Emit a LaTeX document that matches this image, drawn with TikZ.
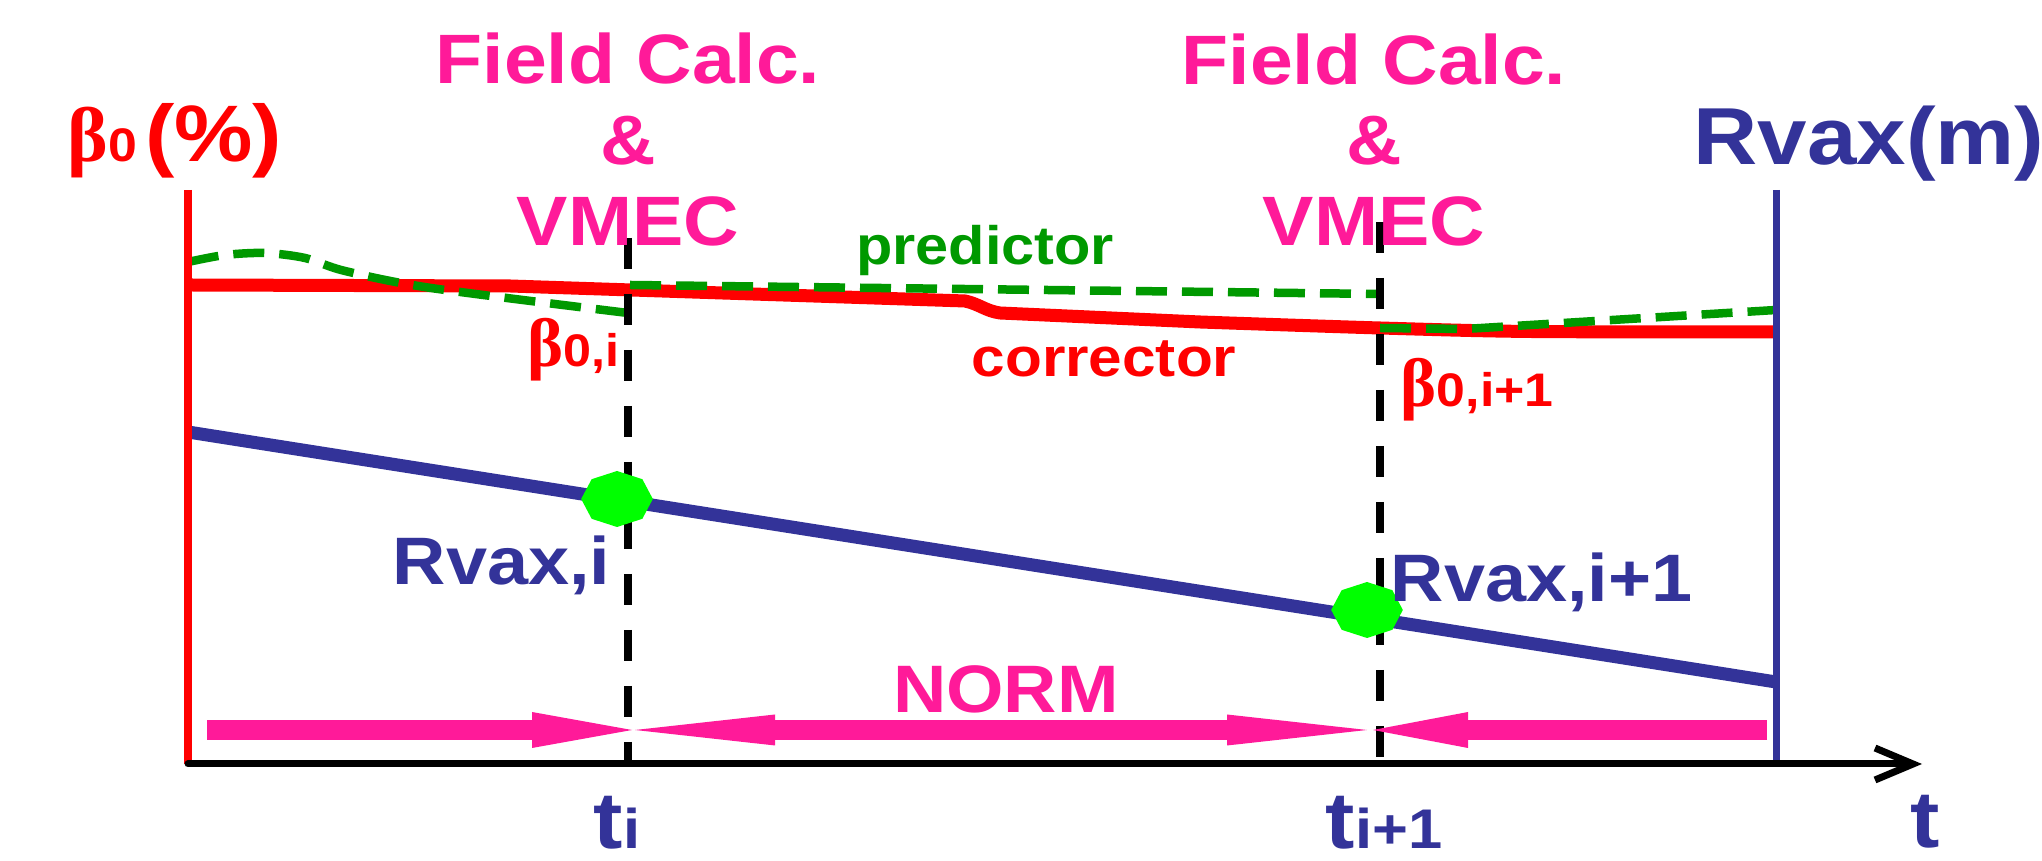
\documentclass[tikz,border=0pt]{standalone}
\usepackage{fontspec}
\setmainfont{Liberation Sans}[FakeStretch=1.1]
\newfontfamily\grkfont{Liberation Serif}
\usetikzlibrary{arrows.meta,shapes.geometric}
\definecolor{rvaxblue}{HTML}{333399}
\definecolor{predgreen}{HTML}{009900}
\definecolor{dotgreen}{HTML}{00FF00}
\definecolor{normpink}{HTML}{FF1A99}
\newcommand{\setsz}[1]{\fontsize{#1}{#1}\selectfont}
\newcommand{\gbeta}[1]{{\grkfont\setsz{#1}β}}
\tikzset{
  frame/.style={line width=0.7mm},
  curve/.style={line width=1.3mm,line join=round},
  pred/.style={draw=predgreen,line width=0.85mm,dash pattern=on 3.1mm off 1.5mm},
  tmark/.style={line width=0.8mm,dash pattern=on 3.1mm off 2.5mm},
  % the equilibrium points are small green octagons, a bit wider than high
  rdot/.style={regular polygon,regular polygon sides=8,shape border rotate=22.5,fill=dotgreen,draw=none,
               minimum size=5.6mm,inner sep=0,xscale=1.28},
  norm/.style={draw=normpink,line width=2mm},
  lab/.style={inner sep=0,font=\bfseries},
  stage/.style={lab,text=normpink,anchor=base,font=\bfseries\setsz{19.9}},
}

\begin{document}
\begin{tikzpicture}
  \useasboundingbox (0,0) rectangle (20.42,8.61);
  \coordinate (O) at (1.88,0.97);
  \coordinate (ytop) at (1.88,6.71);
  \coordinate (R0) at (17.76,0.97);
  \coordinate (Rtop) at (17.76,6.71);
  \coordinate (tend) at (19.22,0.97);
  % the two time slices
  \coordinate (ti) at (6.28,0.97); \coordinate (titop) at (6.28,6.23);
  \coordinate (tj) at (13.80,0.97); \coordinate (tjtop) at (13.80,6.39);
  % Rvax falls linearly, beta0 is the corrected curve
  \draw[curve,rvaxblue] (1.88,4.29) -- (17.76,1.79);
  \draw[curve,red] (1.88,5.76) -- (5.10,5.75) -- (9.65,5.60) to[out=-12,in=172] (10.00,5.48)
    -- plot[smooth] coordinates {(12.00,5.39) (13.80,5.33) (15.30,5.295) (17.76,5.29)};
  % predictor pieces
  \draw[pred] plot[smooth] coordinates {(1.88,5.99) (2.25,6.06) (2.65,6.08) (3.05,6.03) (3.45,5.90) (4.31,5.73) (6.28,5.48)};
  \draw[pred] (6.30,5.76) -- (13.80,5.67);
  \draw[pred] (13.80,5.33) -- (14.65,5.32) -- (17.76,5.51);
  \draw[tmark] (titop) -- (ti);
  \draw[tmark] (tjtop) -- (tj);
  % axes
  \draw[line width=0.8mm,red] (ytop) -- (O);
  \draw[frame,rvaxblue] (Rtop) -- (R0);
  \draw[frame,-{Straight Barb[length=3.8mm,width=3.2mm]},line cap=round] (O) -- (tend);
  \node[rdot] (Ri) at (6.17,3.62) {};
  \node[rdot] (Rj) at (13.67,2.51) {};
  % NORM intervals
  \coordinate (n0) at (2.07,1.31); \coordinate (n1) at (6.32,1.31);
  \coordinate (n2) at (6.35,1.31); \coordinate (n3) at (13.67,1.31);
  \coordinate (n4) at (13.73,1.31); \coordinate (n5) at (17.67,1.31);
  \draw[norm,-{Triangle[length=10mm,width=3.6mm,line width=0pt]}] (n0) -- (n1);
  \draw[norm,{Triangle[length=14mm,width=3.1mm,line width=0pt]}-{Triangle[length=14mm,width=3.1mm,line width=0pt]}] (n2) -- (n3);
  \draw[norm,-{Triangle[length=9.5mm,width=3.6mm,line width=0pt]}] (n5) -- (n4);
  % labels
  \node[stage] (fc1a) at (6.28,7.77) {Field Calc.};
  \node[stage] (fc1b) at (6.28,6.96) {\&};
  \node[stage] (fc1c) at (6.28,6.15) {VMEC};
  \node[stage] (fc2a) at (13.74,7.76) {Field Calc.};
  \node[stage] (fc2b) at (13.74,6.96) {\&};
  \node[stage] (fc2c) at (13.74,6.15) {VMEC};
  \node[lab,text=red,anchor=base west,font=\bfseries\setsz{22.8}] (b0lab) at (0.67,6.99) {\gbeta{22}{\setsz{13.4}0}\hspace{0.8mm}(\%)};
  \node[lab,text=rvaxblue,anchor=base west,font=\bfseries\setsz{23}] (rlab) at (16.93,6.96) {Rvax(m)};
  \node[lab,text=predgreen,anchor=base,font=\bfseries\setsz{15.4}] (predlab) at (9.85,5.96) {predictor};
  \node[lab,text=red,anchor=base,font=\bfseries\setsz{15.6}] (corrlab) at (11.04,4.84) {corrector};
  \node[lab,text=red,anchor=base east,font=\bfseries\setsz{13}] (b0i) at (6.20,4.94) {\gbeta{19.5}0,i};
  \node[lab,text=red,anchor=base west,font=\bfseries\setsz{13.4}] (b0j) at (14.00,4.54) {\gbeta{19.5}0,i+1};
  \node[lab,text=rvaxblue,anchor=base east,font=\bfseries\setsz{19.1}] (rvi) at (6.11,2.76) {Rvax,i};
  \node[lab,text=rvaxblue,anchor=base west,font=\bfseries\setsz{19.1}] (rvj) at (13.90,2.59) {Rvax,i+1};
  \node[lab,text=normpink,anchor=base,font=\bfseries\setsz{19.1}] (normlab) at (10.06,1.48) {NORM};
  \node[lab,text=rvaxblue,anchor=base west,font=\bfseries\setsz{22.8}] (tilab) at (5.93,0.12) {t{\setsz{15.9}i}};
  \node[lab,text=rvaxblue,anchor=base west,font=\bfseries\setsz{22.8}] (tjlab) at (13.25,0.12) {t{\setsz{15.9}i+1}};
  \node[lab,text=rvaxblue,anchor=base west,font=\bfseries\setsz{22.8}] (tlab) at (19.10,0.13) {t};
\end{tikzpicture}
\end{document}
